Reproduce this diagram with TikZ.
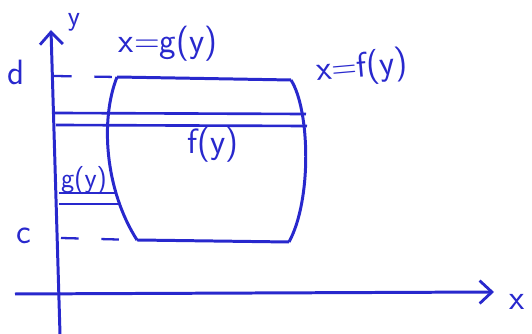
\documentclass[tikz,border=0pt]{standalone}
\usepackage{xcolor}
\usepackage{tikz}
\usetikzlibrary{arrows.meta}
\definecolor{pen}{RGB}{40,40,205}

\begin{document}
\begin{tikzpicture}[x=0.02cm, y=-0.02cm, >={Straight Barb[length=7pt,width=13pt,line width=1.6pt]},
        lbl/.style={text=pen, font=\sffamily\fontsize{20}{22}\selectfont, inner sep=1pt},
        small/.style={text=pen, font=\sffamily\fontsize{16}{18}\selectfont, inner sep=1pt},
        curve/.style={draw=pen, line width=1.7pt},
        strip/.style={draw=pen, line width=1.5pt},
        tick/.style={draw=pen, line width=1.3pt, dash pattern=on 10pt off 13pt},
    ]
    \useasboundingbox (0,0) rectangle (532,334);

    % Axes
    \coordinate (ybot) at (60,334);
    \coordinate (ytop) at (51,30);
    \coordinate (xleft) at (15,294);
    \coordinate (xright) at (494,292);
    \draw[->, curve] (ybot) -- (ytop);
    \draw[->, curve] (xleft) -- (xright);
    \node[small, text height=1ex, text depth=0.5ex] (ylab) at (74,24) {y};
    \node[lbl] (xlab) at (517,302) {x};

    % Corners of the region
    \coordinate (gtop) at (117,77);
    \coordinate (gbot) at (137,240);
    \coordinate (ftop) at (291,80);
    \coordinate (fbot) at (289,242);

    % Boundaries
    \draw[curve] (gtop) .. controls (100,120) and (105,190) .. (gbot);
    \draw[curve] (ftop) .. controls (310,110) and (312,200) .. (fbot);
    \draw[curve] (gtop) -- (ftop);
    \draw[curve] (gbot) -- (fbot);

    % d and c
    \coordinate (dax) at (54,76);
    \coordinate (cax) at (61,238);
    \draw[tick] (dax) -- (gtop);
    \draw[tick] (cax) -- (gbot);
    \node[lbl] (dlab) at (16,72) {d};
    \node[lbl] (clab) at (24,236) {c};

    % Strips
    \coordinate (s1a) at (55,113);
    \coordinate (s1b) at (306,114);
    \coordinate (s2a) at (56,125);
    \coordinate (s2b) at (307,126);
    \draw[strip] (s1a) -- (s1b);
    \draw[strip] (s2a) -- (s2b);
    \coordinate (s3a) at (59,193);
    \coordinate (s3b) at (116,193);
    \coordinate (s4a) at (59,204);
    \coordinate (s4b) at (119,204);
    \draw[strip] (s3a) -- (s3b);
    \draw[strip] (s4a) -- (s4b);

    % Labels
    \node[lbl] (glab) at (168,44) {x=g(y)};
    \node[lbl, rotate=5] (flab) at (362,68) {x=f(y)};
    \node[lbl] (fy) at (213,145) {f(y)};
    \node[small] (gy) at (84,180) {g(y)};
\end{tikzpicture}
\end{document}
